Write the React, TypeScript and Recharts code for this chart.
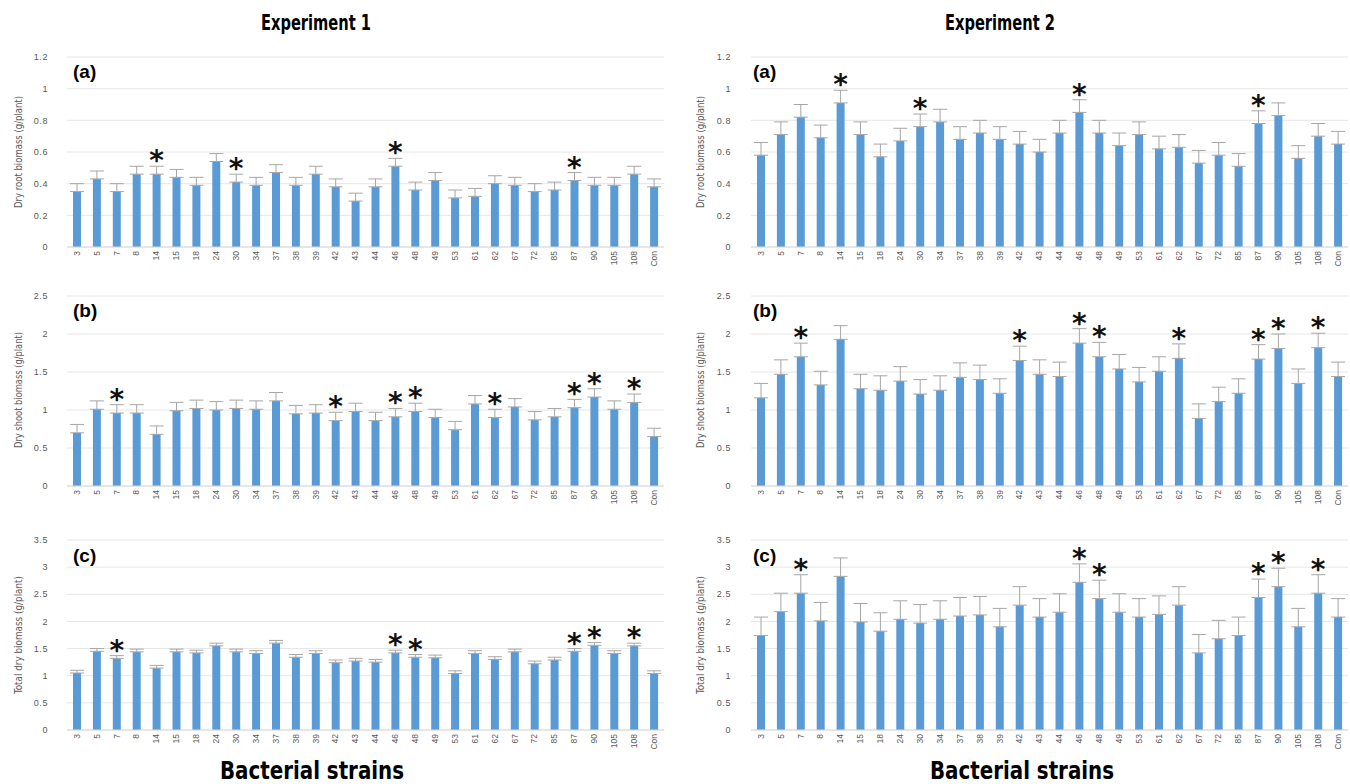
import React from 'react';
import { BarChart, Bar, XAxis, YAxis, CartesianGrid, ErrorBar, ReferenceDot } from 'recharts';

const strains = ['3', '5', '7', '8', '14', '15', '18', '24', '30', '34', '37', '38', '39', '42', '43', '44', '46', '48', '49', '53', '61', '62', '67', '72', '85', '87', '90', '105', '108', 'Con'];

const exp1Root = [0.35, 0.43, 0.35, 0.46, 0.46, 0.44, 0.39, 0.54, 0.41, 0.39, 0.47, 0.39, 0.46, 0.38, 0.29, 0.38, 0.51, 0.36, 0.42, 0.31, 0.32, 0.40, 0.39, 0.35, 0.36, 0.42, 0.39, 0.39, 0.46, 0.38];
const exp1RootErr = [0.05, 0.05, 0.05, 0.05, 0.05, 0.05, 0.05, 0.05, 0.05, 0.05, 0.05, 0.05, 0.05, 0.05, 0.05, 0.05, 0.05, 0.05, 0.05, 0.05, 0.05, 0.05, 0.05, 0.05, 0.05, 0.05, 0.05, 0.05, 0.05, 0.05];
const exp1RootStars = ['14', '30', '46', '87'];

const exp2Root = [0.58, 0.71, 0.82, 0.69, 0.91, 0.71, 0.57, 0.67, 0.76, 0.79, 0.68, 0.72, 0.68, 0.65, 0.60, 0.72, 0.85, 0.72, 0.64, 0.71, 0.62, 0.63, 0.53, 0.58, 0.51, 0.78, 0.83, 0.56, 0.70, 0.65];
const exp2RootErr = [0.08, 0.08, 0.08, 0.08, 0.08, 0.08, 0.08, 0.08, 0.08, 0.08, 0.08, 0.08, 0.08, 0.08, 0.08, 0.08, 0.08, 0.08, 0.08, 0.08, 0.08, 0.08, 0.08, 0.08, 0.08, 0.08, 0.08, 0.08, 0.08, 0.08];
const exp2RootStars = ['14', '30', '46', '87'];

const exp1Shoot = [0.70, 1.01, 0.96, 0.96, 0.68, 0.99, 1.02, 1.00, 1.02, 1.01, 1.12, 0.95, 0.96, 0.86, 0.98, 0.86, 0.91, 0.98, 0.90, 0.74, 1.08, 0.90, 1.04, 0.87, 0.91, 1.03, 1.17, 1.01, 1.10, 0.65];
const exp1ShootErr = [0.11, 0.11, 0.11, 0.11, 0.11, 0.11, 0.11, 0.11, 0.11, 0.11, 0.11, 0.11, 0.11, 0.11, 0.11, 0.11, 0.11, 0.11, 0.11, 0.11, 0.11, 0.11, 0.11, 0.11, 0.11, 0.11, 0.11, 0.11, 0.11, 0.11];
const exp1ShootStars = ['7', '42', '46', '48', '62', '87', '90', '108'];

const exp2Shoot = [1.16, 1.47, 1.70, 1.33, 1.93, 1.28, 1.26, 1.38, 1.21, 1.26, 1.43, 1.40, 1.22, 1.65, 1.47, 1.44, 1.88, 1.70, 1.54, 1.37, 1.51, 1.68, 0.89, 1.11, 1.22, 1.67, 1.81, 1.35, 1.82, 1.44];
const exp2ShootErr = [0.19, 0.19, 0.18, 0.18, 0.18, 0.19, 0.19, 0.19, 0.19, 0.19, 0.19, 0.19, 0.19, 0.19, 0.19, 0.19, 0.19, 0.19, 0.19, 0.19, 0.19, 0.19, 0.19, 0.19, 0.19, 0.19, 0.19, 0.19, 0.19, 0.19];
const exp2ShootStars = ['7', '42', '46', '48', '62', '87', '90', '108'];

const exp1Total = [1.05, 1.45, 1.32, 1.44, 1.14, 1.44, 1.42, 1.55, 1.44, 1.41, 1.60, 1.34, 1.41, 1.24, 1.27, 1.25, 1.42, 1.34, 1.33, 1.04, 1.41, 1.30, 1.44, 1.22, 1.29, 1.45, 1.56, 1.41, 1.55, 1.04];
const exp1TotalErr = [0.05, 0.05, 0.05, 0.05, 0.05, 0.05, 0.05, 0.05, 0.05, 0.05, 0.05, 0.05, 0.05, 0.05, 0.05, 0.05, 0.05, 0.05, 0.05, 0.05, 0.05, 0.05, 0.05, 0.05, 0.05, 0.05, 0.05, 0.05, 0.05, 0.05];
const exp1TotalStars = ['7', '46', '48', '87', '90', '108'];

const exp2Total = [1.74, 2.18, 2.52, 2.01, 2.83, 1.99, 1.82, 2.04, 1.97, 2.04, 2.10, 2.12, 1.90, 2.30, 2.08, 2.17, 2.72, 2.42, 2.17, 2.08, 2.13, 2.30, 1.42, 1.68, 1.74, 2.44, 2.64, 1.90, 2.52, 2.08];
const exp2TotalErr = [0.34, 0.34, 0.34, 0.34, 0.34, 0.34, 0.34, 0.34, 0.34, 0.34, 0.34, 0.34, 0.34, 0.34, 0.34, 0.34, 0.34, 0.34, 0.34, 0.34, 0.34, 0.34, 0.34, 0.34, 0.34, 0.34, 0.34, 0.34, 0.34, 0.34];
const exp2TotalStars = ['7', '46', '48', '87', '90', '108'];

const rootTicks = [0, 0.2, 0.4, 0.6, 0.8, 1, 1.2];
const shootTicks = [0, 0.5, 1, 1.5, 2, 2.5];
const totalTicks = [0, 0.5, 1, 1.5, 2, 2.5, 3, 3.5];

const experimentTitles = ['Experiment 1', 'Experiment 2'];
const xTitle = 'Bacterial strains';
const yTitles = ['Dry root biomass (g/plant)', 'Dry shoot biomass (g/plant)', 'Total dry biomass (g/plant)'];
const panelLetters = ['(a)', '(b)', '(c)'];

const NARROW = "'DejaVu Sans Condensed', 'Liberation Sans', sans-serif";
const SANS = "'Liberation Sans', Arial, sans-serif";
const GREY = '#595959';
const BLUE = '#5B9BD5';

const rowTops = [45, 284, 528];
const colLefts = [0, 675];
const yAxisWidths = [67, 76];
const rightMargins = [11, 2];
const tickMargins = [19, 20];

const XTick = (props: any) => {
  const { x, y, payload } = props;
  return (
    <g transform={`translate(${x},${y})`}>
      <text transform="rotate(-90)" textAnchor="end" dy="0.33em" fontSize={8.5} fill={GREY} fontFamily={SANS}>
        {payload.value}
      </text>
    </g>
  );
};

const StarShape = (props: any) => {
  const { cx, cy } = props;
  return (
    <text x={cx} y={cy + 4} textAnchor="middle" fontSize={28} fontWeight="bold" fill="#111" fontFamily="'DejaVu Sans', sans-serif">
      *
    </text>
  );
};

type PanelCfg = {
  values: number[];
  errs: number[];
  stars: string[];
  ticks: number[];
  row: number;
  col: number;
};

function Panel({ cfg }: { cfg: PanelCfg }) {
  const data = strains.map((s, i) => ({ strain: s, value: cfg.values[i], err: [0, cfg.errs[i]] }));
  const max = cfg.ticks[cfg.ticks.length - 1];
  return (
    <div style={{ position: 'absolute', left: colLefts[cfg.col], top: rowTops[cfg.row] }}>
      <BarChart
        width={675}
        height={245}
        data={data}
        margin={{ top: 12, right: rightMargins[cfg.col], bottom: 0, left: 0 }}
        barCategoryGap={0}
      >
        <CartesianGrid vertical={false} stroke="#e6e6e6" />
        <XAxis
          dataKey="strain"
          interval={0}
          tick={<XTick />}
          tickLine={false}
          tickSize={0}
          tickMargin={4}
          axisLine={{ stroke: '#d9d9d9' }}
          height={43}
        />
        <YAxis
          width={yAxisWidths[cfg.col]}
          domain={[0, max]}
          ticks={cfg.ticks}
          interval={0}
          tick={{ fontSize: 9, fill: GREY, fontFamily: SANS, letterSpacing: 0.6 }}
          tickLine={false}
          tickSize={0}
          tickMargin={tickMargins[cfg.col]}
          axisLine={false}
        />
        <Bar dataKey="value" fill={BLUE} barSize={8} isAnimationActive={false}>
          <ErrorBar dataKey="err" width={7} stroke="#a6a6a6" strokeWidth={1} direction="y" />
        </Bar>
        {cfg.stars.map((s) => {
          const i = strains.indexOf(s);
          return (
            <ReferenceDot
              key={s}
              x={s}
              y={cfg.values[i] + cfg.errs[i]}
              r={0}
              ifOverflow="visible"
              shape={<StarShape />}
            />
          );
        })}
      </BarChart>
    </div>
  );
}

const panels: PanelCfg[] = [
  { values: exp1Root, errs: exp1RootErr, stars: exp1RootStars, ticks: rootTicks, row: 0, col: 0 },
  { values: exp2Root, errs: exp2RootErr, stars: exp2RootStars, ticks: rootTicks, row: 0, col: 1 },
  { values: exp1Shoot, errs: exp1ShootErr, stars: exp1ShootStars, ticks: shootTicks, row: 1, col: 0 },
  { values: exp2Shoot, errs: exp2ShootErr, stars: exp2ShootStars, ticks: shootTicks, row: 1, col: 1 },
  { values: exp1Total, errs: exp1TotalErr, stars: exp1TotalStars, ticks: totalTicks, row: 2, col: 0 },
  { values: exp2Total, errs: exp2TotalErr, stars: exp2TotalStars, ticks: totalTicks, row: 2, col: 1 },
];

const titleX = [316, 1000];
const xTitleX = [312, 1022];
const yTitleX = [18, 700];
const yTitleLen = [112, 116, 118];
const letterX = [73, 753];
const letterY = [78, 317, 562];
const plotMidY = [152, 390, 635];

export default function App() {
  return (
    <div style={{ position: 'absolute', left: 0, top: 0, width: 1350, height: 784, overflow: 'hidden', background: '#fff' }}>
      {panels.map((p, i) => (
        <Panel key={i} cfg={p} />
      ))}
      <svg width={1350} height={784} style={{ position: 'absolute', left: 0, top: 0, pointerEvents: 'none' }}>
        {experimentTitles.map((t, c) => (
          <text
            key={t}
            x={titleX[c]}
            y={30}
            textAnchor="middle"
            fontSize={21}
            fontWeight="bold"
            fill="#000"
            fontFamily={NARROW}
            textLength={110}
            lengthAdjust="spacingAndGlyphs"
          >
            {t}
          </text>
        ))}
        {[0, 1].map((c) => (
          <text
            key={'xt' + c}
            x={xTitleX[c]}
            y={779}
            textAnchor="middle"
            fontSize={25}
            fontWeight="bold"
            fill="#000"
            fontFamily={NARROW}
            textLength={184}
            lengthAdjust="spacingAndGlyphs"
          >
            {xTitle}
          </text>
        ))}
        {[0, 1].map((c) =>
          yTitles.map((t, r) => (
            <text
              key={'yt' + c + r}
              transform={`translate(${yTitleX[c]},${plotMidY[r]}) rotate(-90)`}
              textAnchor="middle"
              dy="0.35em"
              fontSize={11}
              fill={GREY}
              fontFamily={NARROW}
              textLength={yTitleLen[r]}
              lengthAdjust="spacingAndGlyphs"
            >
              {t}
            </text>
          ))
        )}
        {[0, 1].map((c) =>
          panelLetters.map((t, r) => (
            <text key={'pl' + c + r} x={letterX[c]} y={letterY[r]} fontSize={19} fontWeight="bold" fill="#000" fontFamily={SANS}>
              {t}
            </text>
          ))
        )}
      </svg>
    </div>
  );
}
